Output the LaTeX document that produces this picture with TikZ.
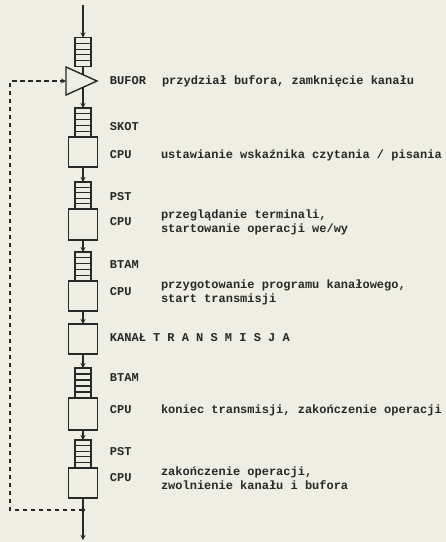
\documentclass[tikz,border=0pt]{standalone}
\usepackage{fontspec}
\setmonofont{Liberation Mono}
\usetikzlibrary{arrows.meta,shapes.geometric,calc}
\pgfdeclarelayer{bg}
\pgfsetlayers{bg,main}
\definecolor{paper}{RGB}{238,238,228}
\definecolor{ink}{RGB}{40,40,40}
\begin{document}
\begin{tikzpicture}[x=1pt,y=-1pt,
  every node/.style={inner sep=0pt, outer sep=0pt},
  q/.style={draw=ink, line width=1.4pt, fill=paper, minimum width=16pt, minimum height=#1,
    path picture={\foreach \k in {1,2,3,4}{\draw[ink, line width=1.1pt]
      ($(path picture bounding box.north west)!\k/5!(path picture bounding box.south west)$) --
      ($(path picture bounding box.north east)!\k/5!(path picture bounding box.south east)$);}}},
  q/.default=29pt,
  box/.style={draw=ink, line width=1.4pt, fill=paper, minimum width=29pt, minimum height=#1},
  box/.default=30pt,
  lbl/.style={anchor=west, font=\ttfamily\bfseries\fontsize{12}{14}\selectfont, text=ink, align=left},
  link/.style={draw=ink, line width=1.4pt, -{Stealth[length=5pt,width=5pt]}},
  plain/.style={draw=ink, line width=1.4pt},
  fb/.style={draw=ink, line width=1.3pt, dash pattern=on 4.5pt off 3.5pt}
]
\useasboundingbox (0,0) rectangle (446,542);
% blocks
\node[q] (q1) at (83,52) {};
\node[isosceles triangle, isosceles triangle stretches, shape border rotate=0,
  draw=ink, line width=1.4pt, fill=paper, minimum width=28pt, minimum height=31pt,
  anchor=west] (tri) at (66,81) {};
\node[q=29pt] (q2) at (83,122.5) {};
\node[box=30pt] (b1) at (83,152) {};
\node[q=27pt] (q3) at (83,195.5) {};
\node[box=31pt] (b2) at (83,224.5) {};
\node[q=29pt] (q4) at (83,266.5) {};
\node[box=30pt] (b3) at (83,296) {};
\node[box=30pt] (b4) at (83,339) {};
\node[q=30pt] (q5) at (83,383) {};
\node[box=32pt] (b5) at (83,414) {};
\node[q=28pt] (q6) at (83,454) {};
\node[box=30pt] (b6) at (83,483) {};
\coordinate (top) at (83,5);
\coordinate (bot) at (83,540);
\coordinate (j) at (83,510);
\coordinate (c1) at (10,510);
\coordinate (c2) at (10,81);
\coordinate (tc) at (q1.south |- tri.west);
% labels
\node[lbl] (l0) at (110,81) {BUFOR};
\node[lbl] (d0) at (162,81) {przydział bufora, zamknięcie kanału};
\node[lbl] (l1) at (110,127) {SKOT};
\node[lbl] (l2) at (110,155) {CPU};
\node[lbl] (d2) at (161,155) {ustawianie wskaźnika czytania / pisania};
\node[lbl] (l3) at (110,197) {PST};
\node[lbl] (l4) at (110,222) {CPU};
\node[lbl] (d4) at (161,222) {przeglądanie terminali,\\startowanie operacji we/wy};
\node[lbl] (l5) at (110,265) {BTAM};
\node[lbl] (l6) at (110,292) {CPU};
\node[lbl] (d6) at (161,292) {przygotowanie programu kanałowego,\\start transmisji};
\node[lbl] (l7) at (110,338) {KANAŁ};
\node[lbl] (d7) at (153,338) {T R A N S M I S J A};
\node[lbl] (l8) at (110,378) {BTAM};
\node[lbl] (l9) at (110,410) {CPU};
\node[lbl] (d9) at (161,410) {koniec transmisji, zakończenie operacji};
\node[lbl] (l10) at (110,452) {PST};
\node[lbl] (l11) at (110,478) {CPU};
\node[lbl] (d11) at (161,478) {zakończenie operacji,\\zwolnienie kanału i bufora};
\begin{pgfonlayer}{bg}
\fill[paper] (0,0) rectangle (446,542);
\draw[link] (top) -- (q1.north);
\draw[plain] (q1.south) -- (tc);
\draw[link] (tc) -- (q2.north);
\draw[link] (b1.south) -- (q3.north);
\draw[link] (b2.south) -- (q4.north);
\draw[link] (b3.south) -- (b4.north);
\draw[link] (b4.south) -- (q5.north);
\draw[link] (b5.south) -- (q6.north);
\draw[link] (b6.south) -- (bot);
\end{pgfonlayer}
\fill[ink] (j) circle (2pt);
\draw[fb, -{Stealth[length=5pt,width=5pt,open]}] (j) -- (c1) -- (c2) -- (tri.west);
\end{tikzpicture}
\end{document}
